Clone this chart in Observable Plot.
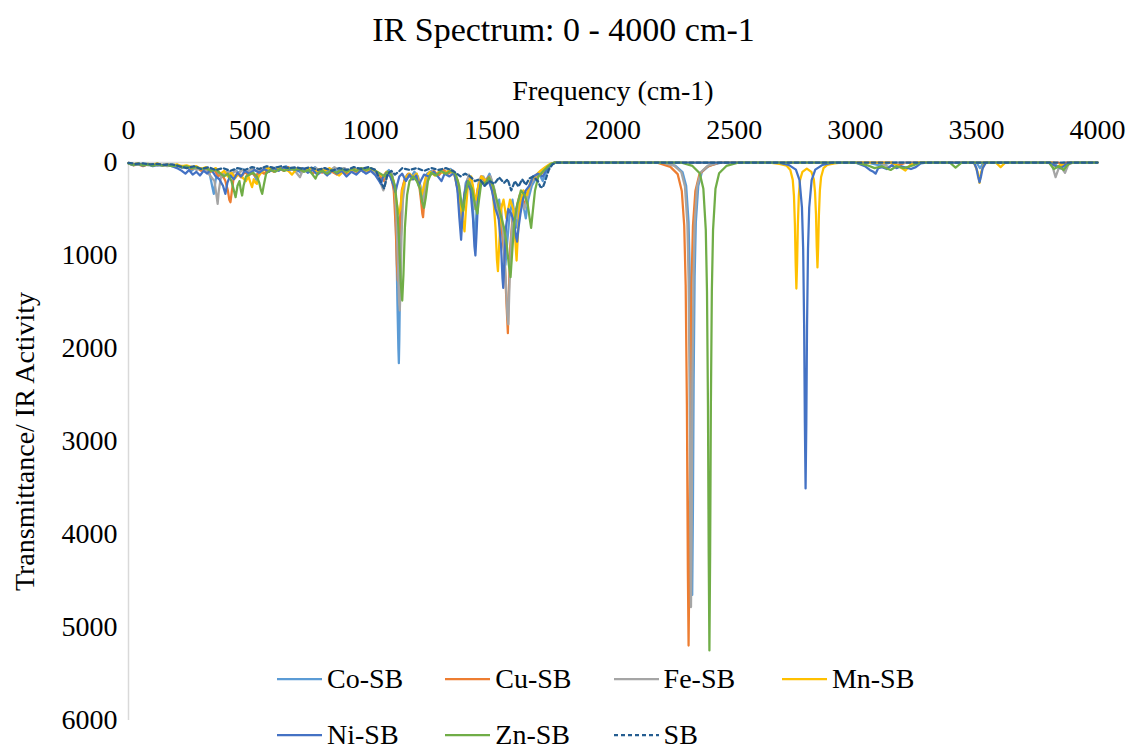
<!DOCTYPE html>
<html><head><meta charset="utf-8">
<script src="https://cdn.jsdelivr.net/npm/d3@7"></script>
<script src="https://cdn.jsdelivr.net/npm/@observablehq/plot@0.6"></script>
<style>
body{margin:0;background:#fff;}
#wrap{position:relative;width:1127px;height:749px;font-family:"Liberation Serif","Times New Roman",Tinos,"Noto Serif","DejaVu Serif",serif;color:#000;}
#title{position:absolute;left:0;top:10px;width:1127px;text-align:center;font-size:34px;line-height:40px;}
.item{position:absolute;height:30px;display:flex;align-items:center;font-size:28px;white-space:nowrap;}
.item svg{margin-right:5px;}
</style></head><body>
<div id="wrap"><div id="chart"></div><div id="title">IR Spectrum: 0 - 4000 cm-1</div><div id="legend"></div></div>
<script>
const seriesNames = ["Co-SB","Cu-SB","Fe-SB","Mn-SB","Ni-SB","Zn-SB","SB"];
const seriesColors = ["#5B9BD5","#ED7D31","#A5A5A5","#FFC000","#4472C4","#70AD47","#255E91"];
const xTicks = [0,500,1000,1500,2000,2500,3000,3500,4000];
const yTicks = [0,1000,2000,3000,4000,5000,6000];

const coSB = [[0,5],[20,20],[40,10],[60,25],[80,15],[100,30],[120,20],[140,35],[160,20],[180,40],[200,30],[220,60],[240,40],[260,90],[280,50],[300,80],[320,60],[335,120],[345,250],[352,337],[360,180],[372,100],[385,160],[395,120],[410,90],[425,140],[440,80],[455,110],[470,70],[490,120],[505,90],[520,140],[530,200],[540,110],[555,80],[570,60],[590,90],[610,50],[630,70],[650,40],[670,80],[690,60],[710,110],[730,70],[750,90],[770,50],[790,100],[810,80],[830,120],[850,70],[870,100],[890,60],[910,110],[930,80],[950,60],[970,100],[990,70],[1010,90],[1030,130],[1045,180],[1060,120],[1075,80],[1090,150],[1100,400],[1106,900],[1110,1500],[1114,2000],[1116,2158],[1118,1900],[1121,1300],[1125,700],[1130,350],[1138,200],[1150,130],[1165,160],[1180,100],[1195,150],[1205,250],[1213,400],[1220,250],[1232,120],[1250,90],[1270,130],[1290,80],[1310,110],[1330,70],[1350,150],[1362,350],[1370,650],[1376,700],[1382,450],[1392,220],[1405,150],[1418,300],[1426,700],[1431,820],[1437,500],[1447,200],[1460,150],[1475,200],[1490,120],[1505,250],[1520,500],[1530,400],[1545,800],[1556,1100],[1562,900],[1572,600],[1585,400],[1600,700],[1610,500],[1622,350],[1640,600],[1650,400],[1665,250],[1680,180],[1695,120],[1710,200],[1725,100],[1740,40],[1760,0],[1800,0],[2200,0],[2257,33],[2287,102],[2302,251],[2312,642],[2317,1232],[2321,2325],[2324,3720],[2327,4650],[2330,3720],[2333,2325],[2337,1232],[2342,642],[2352,251],[2367,102],[2397,33],[2450,0],[3050,0],[3100,30],[3150,0],[3500,0],[3515,60],[3530,0],[3820,0],[3840,60],[3860,0],[4000,0]];

const cuSB = [[0,10],[20,30],[40,20],[60,40],[80,20],[100,30],[120,15],[140,30],[160,20],[180,35],[200,25],[220,50],[240,40],[260,70],[280,50],[300,90],[320,60],[340,100],[355,80],[370,150],[385,120],[400,200],[410,300],[416,400],[421,427],[427,300],[435,150],[450,120],[465,160],[480,100],[495,140],[510,110],[525,150],[540,90],[560,120],[580,70],[600,100],[620,60],[640,90],[660,50],[680,80],[700,60],[720,100],[740,70],[760,120],[780,80],[800,110],[820,70],[840,100],[860,130],[880,80],[900,120],[920,70],[940,100],[960,60],[980,90],[1000,70],[1020,110],[1040,150],[1055,200],[1070,120],[1085,160],[1095,300],[1103,700],[1108,1100],[1112,1270],[1116,1000],[1121,600],[1128,300],[1140,180],[1155,120],[1170,180],[1185,130],[1198,200],[1207,400],[1213,550],[1216,588],[1220,450],[1228,250],[1240,130],[1260,90],[1280,140],[1300,80],[1320,120],[1340,90],[1360,200],[1372,450],[1380,500],[1390,300],[1405,150],[1420,250],[1432,450],[1440,300],[1455,150],[1470,200],[1490,150],[1510,350],[1525,500],[1540,700],[1552,1000],[1560,1500],[1566,1835],[1570,1400],[1576,900],[1585,600],[1600,500],[1615,350],[1635,450],[1650,300],[1665,200],[1685,150],[1705,120],[1725,60],[1745,20],[1760,0],[1800,0],[2180,0],[2237,47],[2267,125],[2284,306],[2294,680],[2300,1319],[2305,2597],[2309,4389],[2312,5194],[2315,4389],[2319,2597],[2324,1319],[2330,680],[2340,306],[2357,125],[2387,47],[2440,0],[3150,0],[3180,30],[3210,0],[3840,0],[3855,40],[3870,0],[4000,0]];

const feSB = [[0,5],[20,15],[40,25],[60,15],[80,30],[100,20],[120,35],[140,25],[160,40],[180,30],[200,45],[220,35],[240,60],[260,45],[280,80],[300,60],[320,90],[340,150],[355,200],[363,350],[368,444],[373,300],[382,150],[395,120],[410,100],[425,130],[440,90],[455,120],[470,80],[490,100],[510,70],[530,90],[550,60],[570,80],[590,50],[610,70],[630,50],[650,70],[670,60],[690,100],[702,140],[708,158],[715,110],[730,70],[750,90],[770,60],[790,80],[810,60],[830,90],[850,50],[870,80],[890,60],[910,90],[930,60],[950,80],[970,60],[990,100],[1010,80],[1030,150],[1045,250],[1052,300],[1058,250],[1068,120],[1085,100],[1098,250],[1106,600],[1112,1100],[1117,1500],[1120,1591],[1123,1350],[1127,800],[1133,400],[1142,200],[1155,140],[1170,170],[1185,120],[1200,200],[1210,380],[1215,450],[1221,320],[1232,150],[1250,100],[1270,130],[1290,90],[1310,120],[1330,80],[1350,160],[1365,400],[1374,620],[1380,500],[1392,250],[1405,130],[1420,250],[1430,500],[1436,400],[1448,180],[1465,150],[1480,220],[1495,150],[1512,300],[1527,600],[1537,450],[1548,800],[1558,1300],[1564,1650],[1568,1740],[1573,1300],[1580,800],[1590,500],[1605,600],[1618,350],[1635,500],[1648,350],[1662,220],[1680,150],[1700,100],[1720,60],[1740,20],[1760,0],[1800,0],[2200,0],[2252,33],[2282,105],[2297,258],[2307,660],[2312,1267],[2316,2390],[2319,3825],[2322,4781],[2325,3825],[2328,2390],[2332,1267],[2337,660],[2347,258],[2362,105],[2392,33],[2440,0],[3100,0],[3140,50],[3170,0],[3800,0],[3815,50],[3827,158],[3840,60],[3855,70],[3866,110],[3880,20],[3900,0],[4000,0]];

const mnSB = [[0,5],[20,20],[40,10],[60,30],[80,15],[100,25],[120,10],[140,30],[160,20],[180,30],[200,20],[220,40],[240,30],[260,50],[280,40],[300,70],[320,50],[340,90],[360,60],[380,120],[395,90],[410,150],[425,110],[440,170],[455,120],[470,160],[485,200],[495,150],[505,230],[510,265],[517,180],[525,220],[530,230],[537,150],[550,100],[565,70],[580,60],[600,80],[620,50],[640,70],[660,90],[675,130],[690,80],[710,60],[730,80],[750,60],[770,100],[790,70],[810,90],[830,60],[850,100],[870,140],[890,90],[910,110],[930,70],[950,100],[970,70],[990,90],[1010,70],[1030,110],[1050,150],[1065,100],[1080,130],[1095,200],[1105,400],[1115,550],[1122,500],[1130,300],[1145,160],[1160,120],[1175,160],[1190,120],[1202,250],[1210,350],[1217,280],[1228,150],[1245,100],[1265,140],[1285,90],[1305,120],[1325,80],[1345,130],[1365,350],[1378,600],[1387,740],[1393,500],[1402,220],[1415,150],[1428,350],[1436,400],[1444,250],[1458,150],[1475,200],[1490,180],[1505,350],[1515,700],[1521,1050],[1525,1168],[1530,900],[1538,500],[1548,400],[1560,600],[1575,400],[1588,500],[1597,850],[1602,1054],[1607,800],[1615,450],[1630,300],[1645,350],[1660,200],[1680,140],[1700,90],[1720,50],[1740,15],[1760,0],[1800,0],[2640,0],[2687,15],[2717,35],[2732,80],[2742,187],[2747,359],[2751,678],[2754,1084],[2757,1355],[2760,1084],[2763,678],[2767,359],[2772,187],[2782,100],[2800,65],[2819,100],[2829,180],[2834,320],[2838,565],[2841,903],[2844,1129],[2847,903],[2850,565],[2854,299],[2859,156],[2869,61],[2884,25],[2914,10],[2950,0],[3150,0],[3180,40],[3207,86],[3230,20],[3260,0],[3490,0],[3505,100],[3513,218],[3520,100],[3535,0],[3580,0],[3600,50],[3620,0],[3810,0],[3830,50],[3850,20],[3870,30],[3890,0],[4000,0]];

const niSB = [[0,10],[20,30],[40,15],[60,35],[80,20],[100,40],[120,25],[140,30],[160,20],[180,40],[200,60],[220,90],[235,120],[250,80],[265,130],[280,100],[295,140],[310,90],[325,120],[340,70],[360,150],[375,180],[390,250],[400,337],[408,220],[420,140],[435,180],[450,110],[465,150],[480,90],[500,120],[520,80],[540,110],[560,70],[580,100],[600,60],[620,90],[640,50],[660,80],[680,60],[700,90],[720,60],[740,110],[760,80],[780,130],[800,90],[820,140],[840,80],[860,120],[880,90],[900,150],[920,100],[940,130],[960,80],[980,120],[1000,90],[1020,140],[1035,200],[1042,230],[1050,160],[1065,110],[1080,150],[1095,250],[1102,320],[1108,250],[1118,150],[1130,120],[1145,200],[1160,130],[1175,180],[1188,140],[1198,250],[1206,200],[1220,130],[1240,150],[1260,100],[1280,160],[1292,200],[1305,120],[1325,150],[1345,110],[1358,300],[1366,600],[1373,831],[1378,600],[1386,350],[1398,200],[1412,300],[1422,600],[1428,900],[1432,1000],[1436,800],[1443,400],[1455,200],[1470,250],[1485,180],[1500,300],[1515,500],[1528,600],[1538,900],[1544,1250],[1547,1348],[1551,1100],[1558,700],[1568,500],[1580,550],[1592,650],[1600,800],[1604,850],[1610,700],[1618,550],[1628,400],[1640,300],[1655,250],[1670,150],[1690,120],[1710,150],[1725,80],[1745,20],[1760,0],[1800,0],[2680,0],[2725,25],[2755,77],[2770,189],[2780,484],[2785,929],[2789,1753],[2792,2804],[2795,3505],[2798,2804],[2801,1753],[2805,929],[2810,484],[2820,189],[2835,77],[2865,25],[2910,0],[3000,0],[3040,40],[3060,80],[3075,100],[3084,120],[3095,60],[3110,50],[3130,70],[3150,30],[3170,60],[3190,40],[3230,70],[3250,50],[3270,10],[3300,0],[3490,0],[3500,60],[3507,150],[3513,212],[3519,150],[3526,60],[3540,0],[3800,0],[3830,40],[3850,60],[3870,20],[3890,0],[4000,0]];

const znSB = [[0,10],[20,25],[40,15],[60,30],[80,20],[100,35],[120,20],[140,30],[160,25],[180,40],[200,30],[220,50],[240,40],[260,60],[280,50],[300,70],[320,60],[340,90],[360,80],[380,120],[395,150],[410,120],[425,200],[435,300],[442,373],[450,250],[458,200],[464,300],[469,355],[475,250],[485,150],[500,130],[515,110],[530,150],[540,220],[547,300],[552,337],[558,250],[568,120],[585,80],[605,100],[625,70],[645,90],[665,60],[685,80],[705,70],[725,100],[745,80],[760,130],[772,174],[782,110],[800,90],[820,120],[840,80],[860,110],[880,70],[900,100],[920,70],[940,90],[960,60],[980,80],[1000,60],[1020,90],[1040,120],[1058,150],[1070,100],[1085,130],[1100,250],[1110,500],[1118,900],[1124,1300],[1130,1484],[1135,1200],[1141,700],[1150,350],[1160,200],[1175,150],[1190,200],[1203,280],[1212,420],[1220,487],[1227,380],[1236,200],[1250,110],[1270,140],[1290,90],[1310,120],[1330,90],[1350,120],[1365,250],[1375,450],[1382,520],[1390,350],[1402,200],[1418,280],[1430,450],[1440,550],[1447,400],[1457,200],[1472,230],[1488,160],[1505,250],[1520,400],[1535,550],[1550,700],[1562,900],[1570,1100],[1577,1233],[1583,1000],[1592,650],[1605,450],[1620,300],[1635,350],[1648,450],[1656,600],[1662,703],[1668,550],[1678,300],[1692,150],[1710,100],[1728,50],[1745,15],[1760,0],[1800,0],[2280,0],[2328,37],[2358,115],[2373,283],[2383,724],[2388,1390],[2392,2624],[2395,4198],[2398,5247],[2401,4198],[2404,2624],[2408,1390],[2413,724],[2423,283],[2438,115],[2468,37],[2520,0],[3000,0],[3050,30],[3080,60],[3110,40],[3146,80],[3170,40],[3200,60],[3240,30],[3270,0],[3390,0],[3414,55],[3440,0],[3800,0],[3820,70],[3840,40],[3860,80],[3875,30],[3890,0],[4000,0]];

const sb = [[0,5],[30,15],[60,10],[90,20],[120,15],[150,25],[180,20],[210,40],[240,60],[270,40],[300,70],[330,50],[360,80],[390,60],[420,90],[450,60],[480,80],[510,50],[540,70],[570,40],[600,60],[630,40],[660,60],[690,50],[720,70],[750,50],[780,80],[810,60],[840,90],[870,60],[900,80],[930,50],[960,70],[990,50],[1020,80],[1040,200],[1055,280],[1070,120],[1085,90],[1100,130],[1115,100],[1130,60],[1160,80],[1190,60],[1220,90],[1250,60],[1280,80],[1310,60],[1340,90],[1370,150],[1390,120],[1410,150],[1430,200],[1450,180],[1470,250],[1490,200],[1510,230],[1530,160],[1550,220],[1565,180],[1580,300],[1595,200],[1610,260],[1625,180],[1640,240],[1655,170],[1670,150],[1690,200],[1700,260],[1710,270],[1720,200],[1735,80],[1750,20],[1765,0],[4000,0]];

const seriesData = [coSB, cuSB, feSB, mnSB, niSB, znSB, sb];

const rows = [];
seriesNames.forEach((name, i) => seriesData[i].forEach(([f, v]) => rows.push({series: name, f, v})));
const solid = rows.filter(d => d.series !== "SB");
const dashed = rows.filter(d => d.series === "SB");

const fontStack = '"Liberation Serif", "Times New Roman", Tinos, "Noto Serif", "DejaVu Serif", serif';
const chart = Plot.plot({
  width: 1127, height: 749,
  marginLeft: 128, marginRight: 30, marginTop: 162, marginBottom: 29,
  style: {fontFamily: fontStack, fontSize: "28px", color: "#000", background: "#fff", overflow: "visible"},
  x: {domain: [0, 4000]},
  y: {domain: [0, 6000], reverse: true},
  color: {domain: seriesNames, range: seriesColors},
  marks: [
    Plot.ruleX([0], {stroke: "#d9d9d9", strokeWidth: 1.5}),
    Plot.ruleY([0], {stroke: "#d9d9d9", strokeWidth: 1.5}),
    Plot.line(solid, {x: "f", y: "v", z: "series", stroke: "series", strokeWidth: 2.25}),
    Plot.line(dashed, {x: "f", y: "v", stroke: "series", strokeWidth: 2.25, strokeDasharray: "4,3"}),
    Plot.axisX({anchor: "top", ticks: xTicks, tickSize: 0, tickPadding: 24, tickFormat: d => String(d), fontSize: 28,
      label: "Frequency (cm-1)", labelAnchor: "center", labelArrow: "none", labelOffset: 82}),
    Plot.axisY({anchor: "left", ticks: yTicks, tickSize: 0, tickPadding: 11, tickFormat: d => String(d), fontSize: 28,
      label: "Transmittance/ IR Activity", labelAnchor: "center", labelArrow: "none", labelOffset: 114})
  ]
});
document.getElementById("chart").appendChild(chart);

const legend = document.getElementById("legend");
seriesNames.forEach((name, i) => {
  const row = Math.floor(i / 4), col = i % 4;
  const item = document.createElement("div");
  item.className = "item";
  item.style.left = (277 + col * 168.3) + "px";
  item.style.top = (row === 0 ? 664 : 720) + "px";
  const dash = name === "SB" ? ' stroke-dasharray="4,3"' : "";
  item.innerHTML = `<svg width="45" height="6"><line x1="0" y1="3" x2="45" y2="3" stroke="${seriesColors[i]}" stroke-width="2.25"${dash}/></svg><span>${name}</span>`;
  legend.appendChild(item);
});
</script>
</body></html>
